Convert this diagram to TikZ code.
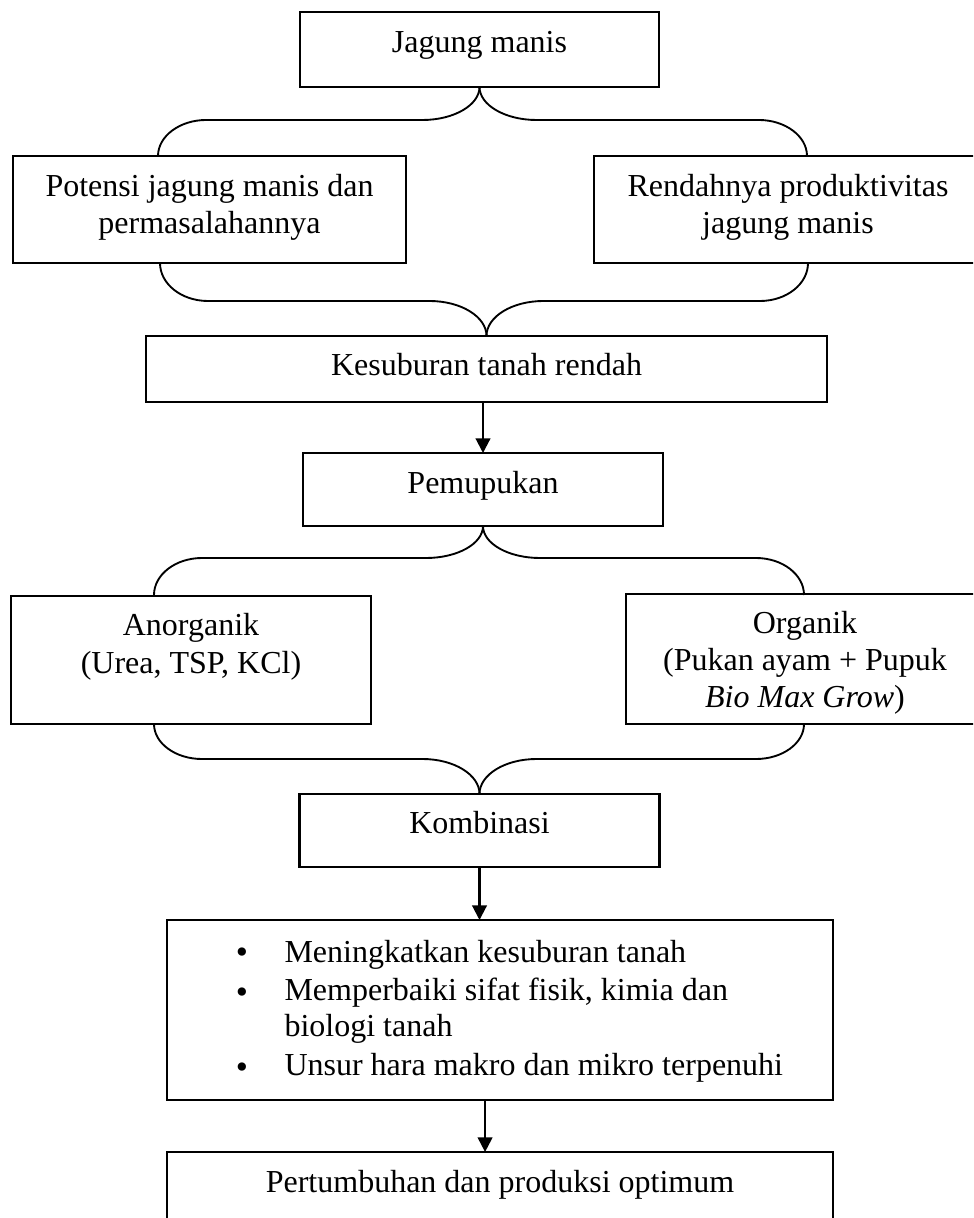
\documentclass[tikz,border=0pt]{standalone}
\usepackage{fontspec}
\setmainfont{Liberation Serif}
\usetikzlibrary{arrows.meta}
\def\pxu{0.375pt}
\begin{document}
\begin{tikzpicture}[x=0.375pt,y=-0.375pt,
  box/.style={draw, line width=0.8pt, inner sep=0pt, outer sep=0pt},
  txt/.style={anchor=base, inner sep=0pt, font=\fontsize{12}{13.8}\selectfont},
  bul/.style={anchor=base, inner sep=0pt, font=\fontsize{13}{13}\selectfont},
  brace/.style={line width=0.7pt},
  arr/.style={line width=0.8pt, -{Triangle[length=5.5pt,width=5.5pt]}}]
\useasboundingbox (0,0) rectangle (973,1218);
\clip (0,0) rectangle (973,1218);

% boxes
\node[box, minimum width=359*\pxu, minimum height=75*\pxu] (jm) at (479.5,49.5) {};
\node[box, minimum width=393*\pxu, minimum height=107*\pxu] (pj) at (209.5,209.5) {};
\node[box, minimum width=388*\pxu, minimum height=107*\pxu] (rp) at (788,209.5) {};
\node[box, minimum width=681*\pxu, minimum height=66*\pxu] (ks) at (486.5,369) {};
\node[box, minimum width=360*\pxu, minimum height=73*\pxu] (pm) at (483,489.5) {};
\node[box, minimum width=360*\pxu, minimum height=128*\pxu] (an) at (191,660) {};
\node[box, minimum width=358*\pxu, minimum height=130*\pxu] (or) at (805,659) {};
\node[box, minimum width=360*\pxu, minimum height=73*\pxu] (kb) at (479.5,830.5) {};
\node[box, minimum width=666*\pxu, minimum height=180*\pxu] (bl) at (500,1010) {};
\node[box, minimum width=666*\pxu, minimum height=108*\pxu] (po) at (500,1206) {};

% texts
\node[txt] (tjm) at (479.5,53) {Jagung manis};
\node[txt] (tpj1) at (209.5,197) {Potensi jagung manis dan};
\node[txt] (tpj2) at (209.5,234) {permasalahannya};
\node[txt] (trp1) at (788,197) {Rendahnya produktivitas};
\node[txt] (trp2) at (788,234) {jagung manis};
\node[txt] (tks) at (486.5,376) {Kesuburan tanah rendah};
\node[txt] (tpm) at (483,493) {Pemupukan};
\node[txt] (tan1) at (191,635) {Anorganik};
\node[txt] (tan2) at (191,673) {(Urea, TSP, KCl)};
\node[txt] (tor1) at (805,633) {Organik};
\node[txt] (tor2) at (805,670) {(Pukan ayam + Pupuk};
\node[txt] (tor3) at (805,707) {\textit{Bio Max Grow})};
\node[txt] (tkb) at (479.5,833) {Kombinasi};
\node[bul] (bu1) at (242,963.5) {•};
\node[bul] (bu2) at (242,1003) {•};
\node[bul] (bu3) at (242,1078) {•};
\node[txt, anchor=base west] (tb1) at (284,962) {Meningkatkan kesuburan tanah};
\node[txt, anchor=base west] (tb2) at (284,1000) {Memperbaiki sifat fisik, kimia dan};
\node[txt, anchor=base west] (tb3) at (284,1036) {biologi tanah};
\node[txt, anchor=base west] (tb4) at (284,1075) {Unsur hara makro dan mikro terpenuhi};
\node[txt] (tpo) at (500,1192) {Pertumbuhan dan produksi optimum};

% brace endpoints
\coordinate (b1L) at (158,156);
\coordinate (b1R) at (807,156);
\coordinate (b2L) at (160,263);
\coordinate (b2R) at (808,263);
\coordinate (b3L) at (154,595);
\coordinate (b3R) at (804,595);
\coordinate (b4L) at (154,724);
\coordinate (b4R) at (804,724);

% brace 1 (split)
\draw[brace] (b1L) .. controls (158,136) and (180,120) .. (206,120) -- (422.5,120)
  .. controls (454,120) and (479.5,105) .. (jm.south);
\draw[brace] (b1R) .. controls (807,136) and (785,120) .. (759,120) -- (536.5,120)
  .. controls (505,120) and (479.5,105) .. (jm.south);
% brace 2 (merge)
\draw[brace] (b2L) .. controls (160,284) and (181.5,301) .. (208,301) -- (429.5,301)
  .. controls (461,301) and (486.5,316.7) .. (ks.north);
\draw[brace] (b2R) .. controls (808,284) and (786.5,301) .. (760,301) -- (543.5,301)
  .. controls (512,301) and (486.5,316.7) .. (ks.north);
% brace 3 (split)
\draw[brace] (b3L) .. controls (154,574.6) and (175.5,558) .. (202,558) -- (426,558)
  .. controls (457.5,558) and (483,543.7) .. (pm.south);
\draw[brace] (b3R) .. controls (804,574.6) and (782.5,558) .. (756,558) -- (540,558)
  .. controls (508.5,558) and (483,543.7) .. (pm.south);
% brace 4 (merge)
\draw[brace] (b4L) .. controls (154,743.3) and (175.5,759) .. (202,759) -- (422.5,759)
  .. controls (454,759) and (479.5,774.7) .. (kb.north);
\draw[brace] (b4R) .. controls (804,743.3) and (782.5,759) .. (756,759) -- (536.5,759)
  .. controls (505,759) and (479.5,774.7) .. (kb.north);

% arrows
\draw[arr] (ks.south -| pm.north) -- (pm.north);
\draw[arr] (kb.south) -- (kb.south |- bl.north);
\draw[arr] ([xshift=-5.6pt]bl.south) -- ([xshift=-5.6pt]po.north);
\end{tikzpicture}
\end{document}
